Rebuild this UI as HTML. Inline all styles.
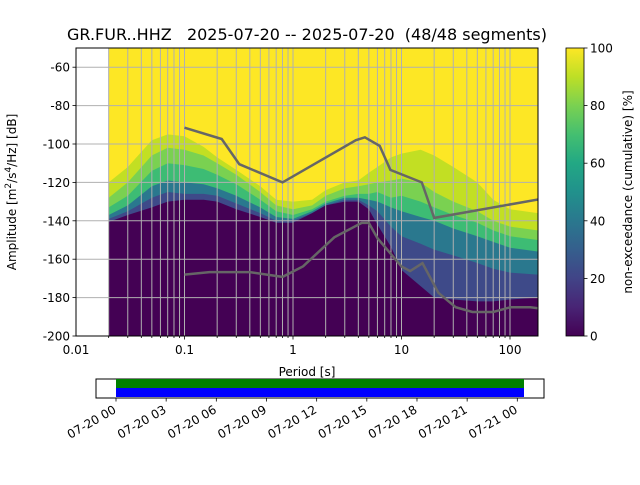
<!DOCTYPE html>
<html><head><meta charset="utf-8"><style>
body{margin:0;background:#fff;width:640px;height:480px;overflow:hidden}
svg{font-family:"DejaVu Sans","Liberation Sans",sans-serif}
</style></head><body>
<svg id="c" width="640" height="480">
<defs>
<linearGradient id="vir" x1="0" y1="1" x2="0" y2="0">
<stop offset="0" stop-color="#440154"/><stop offset="0.1" stop-color="#482475"/><stop offset="0.2" stop-color="#414487"/><stop offset="0.3" stop-color="#355f8d"/><stop offset="0.4" stop-color="#2a788e"/><stop offset="0.5" stop-color="#21918c"/><stop offset="0.6" stop-color="#22a884"/><stop offset="0.7" stop-color="#44bf70"/><stop offset="0.8" stop-color="#7ad151"/><stop offset="0.9" stop-color="#bddf26"/><stop offset="1" stop-color="#fde725"/>
</linearGradient>
<clipPath id="pc"><rect x="76" y="48" width="462" height="288"/></clipPath>
</defs>
<text x="307" y="40" font-size="16" text-anchor="middle" style="white-space:pre">GR.FUR..HHZ   2025-07-20 -- 2025-07-20  (48/48 segments)</text>
<g id="plot" clip-path="url(#pc)"></g>
<g id="ax"></g>
<rect x="76" y="48" width="462" height="288" fill="none" stroke="#000" stroke-width="1"/>
<rect x="566" y="48" width="18" height="288" fill="url(#vir)" stroke="#000" stroke-width="0.8"/>
<text transform="translate(632,192) rotate(-90)" font-size="12" text-anchor="middle">non-exceedance (cumulative) [%]</text>
<text transform="translate(16,192) rotate(-90)" font-size="12" text-anchor="middle">Amplitude [m<tspan font-size="9" dy="-5">2</tspan><tspan dy="5">/s</tspan><tspan font-size="9" dy="-5">4</tspan><tspan dy="5">/Hz] [dB]</tspan></text>
<text x="307" y="376" font-size="12" text-anchor="middle">Period [s]</text>
<rect x="96" y="379" width="448" height="19" fill="#fff" stroke="#000"/>
<rect x="116" y="379" width="408" height="9" fill="#008000"/>
<rect x="116" y="388" width="408" height="9" fill="#0000ff"/>
<g id="tl"></g>
</svg>
<script>
const periods=[0.02,0.03,0.05,0.07,0.1,0.15,0.2,0.3,0.5,0.7,1,1.5,2,3,4,5,6,8,10,15,20,30,50,70,100,180];
const p100=[-120,-112,-98,-95,-96,-101.5,-107,-113.5,-122,-129,-130,-129,-124,-120,-119,-115,-112,-107,-105,-103,-106,-112,-120,-129,-134,-136];
const p80=[-128,-120,-106,-102,-103,-106,-110,-116,-125,-132,-134,-132,-127,-123,-122,-121,-120,-119,-118,-120,-125,-130,-135,-140,-143,-145];
const p60=[-133,-127,-114,-110,-111,-113,-116,-121,-129,-135,-137,-134,-130,-127,-126,-126,-125,-128,-127,-130,-133,-137,-141,-145,-148,-150];
const p40=[-137,-132,-122,-119,-120,-121,-123,-127,-133,-138,-139,-135,-131,-128,-128,-129,-130,-133,-135,-138,-140,-144,-148,-151,-154,-156];
const p20=[-139,-135,-128,-125,-126,-126,-127,-131,-136,-140,-140,-136,-132,-129,-129,-132,-135,-143,-148,-152,-155,-158,-162,-165,-167,-168];
const p0=[-140.6,-137,-133,-130,-129,-129,-130,-134,-138,-141,-141,-136,-132,-130,-130,-134,-142,-153.6,-165.6,-174,-180,-181,-182,-182,-181,-180];
const nhnmP=[0.1,0.22,0.32,0.8,3.8,4.6,6.3,7.9,15.4,20,354.8];
const nhnmDb=[-91.5,-97.4,-110.5,-120,-98,-96.5,-101,-113.5,-120,-138.5,-126];
const nlnmP=[0.1,0.17,0.4,0.8,1.24,2.4,4.3,5,6,10,12,15.6,21.9,31.6,45,70,101,154,328];
const nlnmDb=[-168,-166.7,-166.7,-169.2,-163.7,-148.6,-141.1,-141.1,-149,-163.8,-166.2,-162.1,-177.5,-185,-187.5,-187.5,-185,-185,-187.5];
const yTicks=[-60,-80,-100,-120,-140,-160,-180,-200];
const xTicks=[0.01,0.1,1,10,100];
const xTickLabels=["0.01","0.1","1","10","100"];
const cbTicks=[0,20,40,60,80,100];
const timeLabels=["07-20 00","07-20 03","07-20 06","07-20 09","07-20 12","07-20 15","07-20 18","07-20 21","07-21 00"];
const timeHours=[0,3,6,9,12,15,18,21,24];

const NS="http://www.w3.org/2000/svg";
const X=p=>76+108.5*(Math.log10(p)+2);
const Y=d=>48+(-50-d)*1.92;
const CY=v=>336-v*2.88;
const TX=h=>116+h*(408/24.4);
function mk(t,a,par){const e=document.createElementNS(NS,t);for(const k in a)e.setAttribute(k,a[k]);par.appendChild(e);return e;}
const plot=document.getElementById('plot'),ax=document.getElementById('ax'),tl=document.getElementById('tl');
const x0=X(periods[0]),x1=X(periods[periods.length-1]);
let bg=mk('rect',{x:x0,y:48,width:x1-x0,height:288,fill:'#fde725'},plot);


const bands=[[p100,'#c2df23','band-90'],[p80,'#7ad151','band-70'],[p60,'#3dbc74','band-50'],[p40,'#2a788e','band-30'],[p20,'#3e4a89','band-10'],[p0,'#440154','band-0']];
bands.forEach(([arr,col,nm])=>{
  let d='M'+x0+',336 '+periods.map((p,i)=>'L'+X(p).toFixed(1)+','+Y(arr[i]).toFixed(1)).join(' ')+' L'+x1+',336 Z';
  const e=mk('path',{d:d,fill:col},plot);
  
  
});
for(let dec=-2;dec<=2;dec++)for(let k=1;k<=9;k++){const p=k*Math.pow(10,dec);if(p<0.019||p>181)continue;
  const e=mk('line',{x1:X(p),x2:X(p),y1:48,y2:336,stroke:'#b0b0b0','stroke-width':1},plot);
  
  
  const t=mk('line',{x1:X(p),x2:X(p),y1:336,y2:k==1?339.5:338,stroke:'#000','stroke-width':0.8},ax);
  
  }
yTicks.forEach(v=>{
  const e=mk('line',{x1:76,x2:538,y1:Y(v),y2:Y(v),stroke:'#b0b0b0','stroke-width':1},plot);
  
  
  const t=mk('line',{x1:72.5,x2:76,y1:Y(v),y2:Y(v),stroke:'#000','stroke-width':0.8},ax);
  
  
  const l=mk('text',{x:70,y:Y(v)+4.5,'font-size':12,'text-anchor':'end'},ax);l.textContent=v;
  
  
});
xTicks.forEach((p,i)=>{const l=mk('text',{x:X(p),y:354,'font-size':12,'text-anchor':'middle'},ax);l.textContent=xTickLabels[i];
  
  });
[[nhnmP,nhnmDb,'nhnm-line'],[nlnmP,nlnmDb,'nlnm-line']].forEach(([P,D,nm])=>{
  const e=mk('polyline',{points:P.map((p,i)=>X(p).toFixed(1)+','+Y(D[i]).toFixed(1)).join(' '),fill:'none',stroke:'#666','stroke-width':2.5},plot);
  
  
});
cbTicks.forEach(v=>{
  const t=mk('line',{x1:584,x2:587.5,y1:CY(v),y2:CY(v),stroke:'#000','stroke-width':0.8},ax);
  
  
  const l=mk('text',{x:590,y:CY(v)+4.5,'font-size':12},ax);l.textContent=v;
  
  
});
timeHours.forEach((h,i)=>{const x=TX(h);
  const t=mk('line',{x1:x,x2:x,y1:398,y2:401.5,stroke:'#000','stroke-width':0.8},tl);
  
  
  const l=mk('text',{x:0,y:0,'font-size':12,'text-anchor':'end',transform:'translate('+(x+1)+',412) rotate(-30)'},tl);l.textContent=timeLabels[i];
  
  
});
</script>
</body></html>
